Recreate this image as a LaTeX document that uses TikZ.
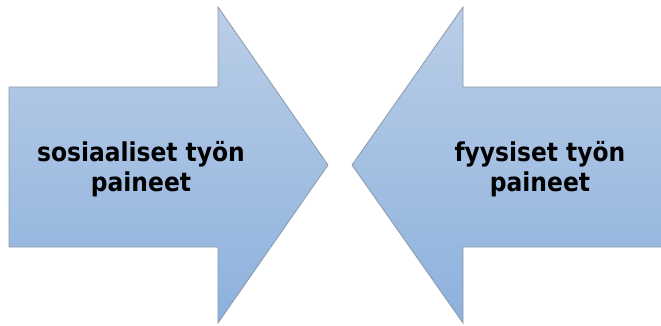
\documentclass[tikz,border=0pt]{standalone}
\usepackage{fontspec}
\setmainfont{DejaVu Sans Condensed}
\definecolor{pilylä}{HTML}{BACEE7}
\definecolor{pilala}{HTML}{8DB1DD}
\definecolor{pilreuna}{HTML}{8A98AA}
\tikzset{
  pil/.style={draw=pilreuna, line width=0.8pt, top color=pilylä, bottom color=pilala, line join=miter},
  pilteksti/.style={align=center, font=\fontsize{26}{30.5}\selectfont\bfseries, inner sep=0pt}
}
\begin{document}
\begin{tikzpicture}[x=1pt,y=-1pt]
  \useasboundingbox (0,0) rectangle (661,325);
  \draw[pil] (9,87) -- ++(209,0) -- ++(0,-80) -- (328,165) -- (218,323) -- ++(0,-76) -- ++(-209,0) -- cycle;
  \draw[pil] (662,87) -- ++(-199,0) -- ++(0,-80) -- (352,165) -- (463,323) -- ++(0,-76) -- ++(199,0);
  \node[pilteksti](sos) at (141,169){sosiaaliset työn\\paineet};
  \node[pilteksti](fyy) at (540,169){fyysiset työn\\paineet};
\end{tikzpicture}
\end{document}
